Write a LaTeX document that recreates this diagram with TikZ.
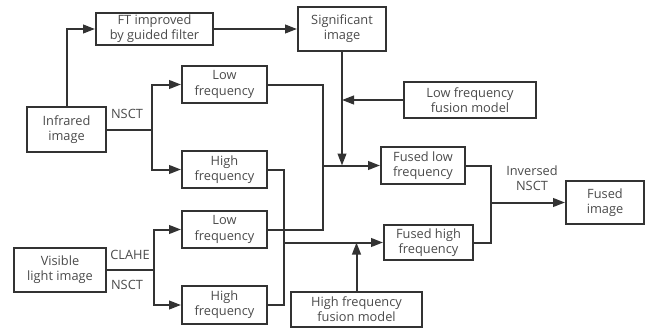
\documentclass[tikz,border=0pt]{standalone}
\usepackage{fontspec}
\setmainfont{Open Sans}
\usetikzlibrary{arrows.meta}
\definecolor{ln}{HTML}{333333}
\definecolor{tx}{HTML}{4a4a4a}
\begin{document}
\begin{tikzpicture}[x=0.75pt,y=-0.75pt,
  box/.style={draw=ln,line width=1.5pt,inner sep=0pt,align=center,text=tx,font=\fontsize{9.6}{11.4}\selectfont},
  lbl/.style={text=tx,inner sep=0pt,align=center,font=\fontsize{9.6}{11.4}\selectfont},
  conn/.style={draw=ln,line width=1.5pt},
  arr/.style={conn,-{Triangle[length=9pt,width=6.5pt]}}]
\useasboundingbox (0,0) rectangle (651,332);
\node[box,minimum width=87.75pt,minimum height=24pt] (ft) at (154.5,29) {FT improved\\by guided filter};
\node[box,minimum width=66pt,minimum height=33pt] (sig) at (342,29) {Significant\\image};
\node[box,minimum width=59.25pt,minimum height=33.75pt] (ir) at (66.5,129.5) {Infrared\\image};
\node[box,minimum width=63.75pt,minimum height=27.75pt] (irlow) at (224.5,84.5) {Low\\frequency};
\node[box,minimum width=63.75pt,minimum height=27.75pt] (irhigh) at (224.5,169.5) {High\\frequency};
\node[box,minimum width=99pt,minimum height=27pt] (lfm) at (470,100) {Low frequency\\fusion model};
\node[box,minimum width=63pt,minimum height=27.75pt] (flow) at (423,165.5) {Fused low\\frequency};
\node[box,minimum width=63.75pt,minimum height=27.75pt] (vislow) at (224.5,229.5) {Low\\frequency};
\node[box,minimum width=69pt,minimum height=33pt] (vis) at (60,270) {Visible\\light image};
\node[box,minimum width=63.75pt,minimum height=28.5pt] (vishigh) at (224.5,305) {High\\frequency};
\node[box,minimum width=98.25pt,minimum height=26.25pt] (hfm) at (356.5,309.5) {High frequency\\fusion model};
\node[box,minimum width=66.75pt,minimum height=26.25pt] (fhigh) at (428.5,242.5) {Fused high\\frequency};
\node[box,minimum width=58.5pt,minimum height=32.25pt] (fimg) at (605,202.5) {Fused\\image};
\coordinate (j1) at (152,129.5);
\coordinate (j2) at (154,270);
\coordinate (c1) at (323,229.5);
\coordinate (c2) at (323,165.5);
\coordinate (c3) at (284,242.5);
\coordinate (c4) at (491,202.5);
\node[lbl] (nsct1) at (127,114) {NSCT};
\node[lbl] (clahe) at (130,255) {CLAHE};
\node[lbl] (nsct2) at (127,285) {NSCT};
\node[lbl] (inv) at (532,178.5) {Inversed\\NSCT};
\draw[arr] (ir.north) |- (ft.west);
\draw[arr] (ft.east) -- (sig.west);
\draw[conn] (ir.east) -- (j1);
\draw[arr] (j1) |- (irlow.west);
\draw[arr] (j1) |- (irhigh.west);
\draw[conn] (vis.east) -- (j2);
\draw[arr] (j2) |- (vislow.west);
\draw[arr] (j2) |- (vishigh.west);
\draw[conn] (irlow.east) -| (c1) -- (vislow.east);
\draw[arr] (c2) -- (flow.west);
\draw[arr] (sig.south) -- (sig.south |- flow.west);
\draw[arr] (lfm.west) -- (lfm.west -| sig.south);
\draw[conn] (irhigh.east) -| (284,305) -- (vishigh.east);
\draw[arr] (c3) -- (fhigh.west);
\draw[arr] (hfm.north) -- (hfm.north |- fhigh.west);
\draw[conn] (flow.east) -| (491,242.5) -- (fhigh.east);
\draw[arr] (c4) -- (fimg.west);
\end{tikzpicture}
\end{document}
